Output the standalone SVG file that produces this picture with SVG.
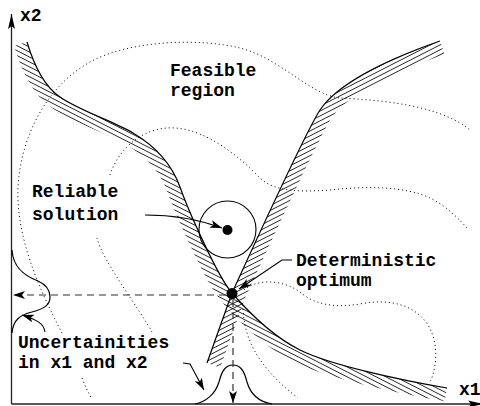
<svg xmlns="http://www.w3.org/2000/svg" width="480" height="406" viewBox="0 0 480 406">
<style>
.t{font-family:"Liberation Mono","Courier New",monospace;font-weight:bold;font-size:18px;fill:#000}
.c{fill:none;stroke:#000;stroke-width:1.2}
.d{fill:none;stroke:#000;stroke-width:1;stroke-dasharray:1 3}
.ax{fill:none;stroke:#222;stroke-width:1.3}
.ds{fill:none;stroke:#333;stroke-width:1.2;stroke-dasharray:7 5}
.ar{fill:none;stroke:#000;stroke-width:1.1}
</style>
<defs>
<pattern id="hL" patternUnits="userSpaceOnUse" width="20" height="4.4" patternTransform="rotate(27)"><line x1="-1" y1="2.2" x2="21" y2="2.2" stroke="#000" stroke-width="0.8"/></pattern>
<pattern id="hR" patternUnits="userSpaceOnUse" width="20" height="4.4" patternTransform="rotate(-27)"><line x1="-1" y1="2.2" x2="21" y2="2.2" stroke="#000" stroke-width="0.8"/></pattern>
<clipPath id="cL"><path d="M27,42 C33,62 42,85 60,97 C78,110 115,122 133,133 C155,146 172,165 180,187 C187,207 217,276 232,293 C245,308 270,335 300,350 C330,365 400,380 447,388 L447,406 L0,406 L0,42 Z"/></clipPath>
<clipPath id="cR"><path d="M440,41 C400,55 340,80 320,110 C305,133 255,243 232,293 L207,363 L207,406 L480,406 L480,41 Z"/></clipPath>
<marker id="ah" markerUnits="userSpaceOnUse" markerWidth="14" markerHeight="8" refX="12" refY="4" orient="auto"><path d="M0,0 L12,4 L0,8 L3,4 Z" fill="#000"/></marker>
<marker id="ahA" markerUnits="userSpaceOnUse" markerWidth="16" markerHeight="8" refX="15" refY="4" orient="auto"><path d="M0,0.5 L15,4 L0,7.5 L3,4 Z" fill="#000"/></marker>
</defs>

<g id="axes">
<path class="ax" d="M11.5,404 L11.5,14" marker-end="url(#ahA)"/>
<path class="ax" d="M11.5,404 L483,404" marker-end="url(#ahA)"/>
<text class="t" x="20" y="21">x2</text>
<text class="t" x="459" y="395">x1</text>
</g>

<g id="contours">
<path class="d" d="M62,333 C45,300 20,250 18,200 C16,150 40,90 90,62 C130,40 200,38 240,48 C280,58 310,95 340,98 C380,100 440,105 470,130"/>
<path class="d" d="M82,378 C85,386 88,392 92,399"/>
<path class="d" d="M97,238 C102,260 140,310 152,332"/>
<path class="d" d="M110,175 C118,150 140,130 167,128 C195,126 228,145 260,178 C275,192 300,192 330,190 C365,186 405,186 430,198 C445,205 458,218 467,228"/>
<path class="d" d="M244,290 C255,280 280,278 300,292 C315,305 335,308 360,304 C390,298 415,305 428,325 C440,345 436,370 430,382"/>
<path class="d" d="M243,305 C243,335 255,365 298,398"/>
</g>

<g id="constraint-left">
<path d="M27,42 C33,62 42,85 60,97 C78,110 115,122 133,133 C155,146 172,165 180,187 C187,207 217,276 232,293 C245,308 270,335 300,350 C330,365 400,380 447,388" fill="none" stroke="url(#hL)" stroke-width="27" clip-path="url(#cL)"/>
<path class="c" d="M27,42 C33,62 42,85 60,97 C78,110 115,122 133,133 C155,146 172,165 180,187 C187,207 217,276 232,293 C245,308 270,335 300,350 C330,365 400,380 447,388"/>
</g>

<g id="constraint-right">
<path d="M440,41 C400,55 340,80 320,110 C305,133 255,243 232,293 L207,363" fill="none" stroke="url(#hR)" stroke-width="28" clip-path="url(#cR)"/>
<path class="c" d="M440,41 C400,55 340,80 320,110 C305,133 255,243 232,293 L207,363"/>
</g>

<g id="uncertainty-x2">
<path class="c" d="M12,250 C13,268 25,276 38,281 C47,285 50,290 50,297 C50,305 44,309 32,312 C20,315 13,320 12,333"/>
</g>
<g id="uncertainty-x1">
<path class="c" d="M195,404 C205,402 215,395 219,382 C222,370 226,365 233,365 C240,365 244,370 247,382 C251,396 260,402 272,404"/>
</g>

<g id="connectors">
<path class="ds" d="M226,295 L13,295" marker-end="url(#ah)"/>
<path class="ds" d="M233,300 L233,403" marker-end="url(#ah)"/>
<path class="ar" d="M145,215 C175,215 200,220 222,228" marker-end="url(#ah)"/>
<path class="ar" d="M292,260 L282,260 L239,289" marker-end="url(#ah)"/>
<path class="ar" d="M45,332 C44,324 38,320 22,315" marker-end="url(#ah)"/>
<path class="ar" d="M183,363 L190,364 L204,390" marker-end="url(#ah)"/>
</g>

<g id="reliable-solution">
<circle cx="227.5" cy="229.5" r="28.5" fill="none" stroke="#000" stroke-width="1.1"/>
<circle cx="227.5" cy="230" r="5" fill="#000"/>
<text class="t" x="32" y="197">Reliable</text>
<text class="t" x="32" y="220">solution</text>
</g>

<g id="deterministic-optimum">
<circle cx="232" cy="293.5" r="5.5" fill="#000"/>
<text class="t" x="296" y="266">Deterministic</text>
<text class="t" x="296" y="286">optimum</text>
</g>

<g id="feasible-region">
<text class="t" x="170" y="76">Feasible</text>
<text class="t" x="170" y="96">region</text>
</g>

<g id="uncertainties">
<text class="t" x="18" y="348">Uncertainities</text>
<text class="t" x="18" y="368">in x1 and x2</text>
</g>
</svg>
